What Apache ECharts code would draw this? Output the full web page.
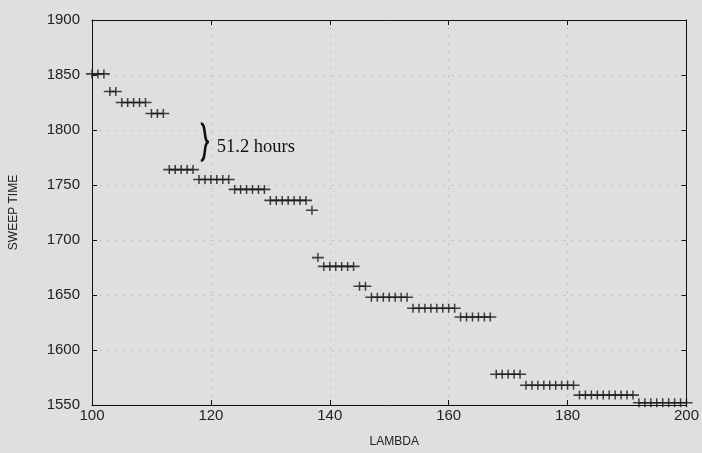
<!DOCTYPE html>
<html>
<head>
<meta charset="utf-8">
<script src="https://cdn.jsdelivr.net/npm/echarts@6/dist/echarts.min.js"></script>
<style>
  html, body { margin: 0; padding: 0; background: #dedfde; }
  #chart { width: 702px; height: 453px; }
</style>
</head>
<body>
<div id="chart"></div>
<script>
var lambdaVals = [
  100, 101, 102,
  103, 104,
  105, 106, 107, 108, 109,
  110, 111, 112,
  113, 114, 115, 116, 117,
  118, 119, 120, 121, 122, 123,
  124, 125, 126, 127, 128, 129,
  130, 131, 132, 133, 134, 135, 136,
  137,
  138,
  139, 140, 141, 142, 143, 144,
  145, 146,
  147, 148, 149, 150, 151, 152, 153,
  154, 155, 156, 157, 158, 159, 160, 161,
  162, 163, 164, 165, 166, 167,
  168, 169, 170, 171, 172,
  173, 174, 175, 176, 177, 178, 179, 180, 181,
  182, 183, 184, 185, 186, 187, 188, 189, 190, 191,
  192, 193, 194, 195, 196, 197, 198, 199, 200
];
var sweepTimes = [
  1851, 1851, 1851,
  1835, 1835,
  1825, 1825, 1825, 1825, 1825,
  1815, 1815, 1815,
  1764, 1764, 1764, 1764, 1764,
  1755, 1755, 1755, 1755, 1755, 1755,
  1746, 1746, 1746, 1746, 1746, 1746,
  1736, 1736, 1736, 1736, 1736, 1736, 1736,
  1727,
  1684,
  1676, 1676, 1676, 1676, 1676, 1676,
  1658, 1658,
  1648, 1648, 1648, 1648, 1648, 1648, 1648,
  1638, 1638, 1638, 1638, 1638, 1638, 1638, 1638,
  1630, 1630, 1630, 1630, 1630, 1630,
  1578, 1578, 1578, 1578, 1578,
  1568, 1568, 1568, 1568, 1568, 1568, 1568, 1568, 1568,
  1559, 1559, 1559, 1559, 1559, 1559, 1559, 1559, 1559, 1559,
  1552, 1552, 1552, 1552, 1552, 1552, 1552, 1552, 1552
];
var xTicks = { min: 100, max: 200, step: 20 };
var yTicks = { min: 1550, max: 1900, step: 50 };
var noteText = '51.2 hours';

var points = [];
for (var i = 0; i < lambdaVals.length; i++) {
  points.push([lambdaVals[i], sweepTimes[i]]);
}

var plusPath = 'path://M0,3.3h12v1.4h-12z M5.25,0h1.5v8h-1.5z';
var sans = 'Liberation Sans, Arial, sans-serif';
var gridLine = { show: true, lineStyle: { color: '#666', type: [1, 7], width: 1, opacity: 0.45 } };
var frame = { show: true, lineStyle: { color: '#111', width: 1 } };
var inTick = { show: true, inside: true, length: 5, lineStyle: { color: '#111' } };
var plain = function (v) { return String(v); };

var chart = echarts.init(document.getElementById('chart'));
chart.setOption({
  backgroundColor: '#dedfde',
  animation: false,
  grid: { left: 92, right: 13, top: 20, bottom: 46 },
  xAxis: [{
    type: 'value', min: xTicks.min, max: xTicks.max, interval: xTicks.step,
    name: 'LAMBDA', nameLocation: 'middle', nameGap: 31,
    nameTextStyle: { fontFamily: sans, fontSize: 12, color: '#222', padding: [0, 0, 0, 10] },
    axisLine: frame, axisTick: inTick, splitLine: gridLine,
    axisLabel: { margin: 3, fontFamily: sans, fontSize: 15, color: '#222', formatter: plain }
  }, {
    type: 'value', position: 'top', min: xTicks.min, max: xTicks.max, interval: xTicks.step,
    axisLine: frame, axisTick: inTick, axisLabel: { show: false }, splitLine: { show: false }
  }],
  yAxis: [{
    type: 'value', min: yTicks.min, max: yTicks.max, interval: yTicks.step,
    name: 'SWEEP TIME', nameLocation: 'middle', nameGap: 72,
    nameTextStyle: { fontFamily: sans, fontSize: 12, color: '#222' },
    axisLine: frame, axisTick: inTick, splitLine: gridLine,
    axisLabel: { margin: 12, fontFamily: sans, fontSize: 15, color: '#222', formatter: plain }
  }, {
    type: 'value', position: 'right', min: yTicks.min, max: yTicks.max, interval: yTicks.step,
    axisLine: frame, axisTick: inTick, axisLabel: { show: false }, splitLine: { show: false }
  }],
  series: [{
    type: 'scatter',
    data: points,
    symbol: plusPath,
    symbolSize: [12, 9],
    itemStyle: { color: '#151515' }
  }]
});

// brace + note, anchored in data coordinates
var braceTop = chart.convertToPixel({ gridIndex: 0 }, [118.3, 1806]);
var braceBot = chart.convertToPixel({ gridIndex: 0 }, [118.3, 1772]);
var notePos = chart.convertToPixel({ gridIndex: 0 }, [121.0, 1784]);
var bx = braceTop[0], by = braceTop[1];
var h = braceBot[1] - braceTop[1];
var m = by + h / 2;
var braceStyle = { fill: null, stroke: '#111', lineWidth: 2.5 };
chart.setOption({
  graphic: [{
    type: 'bezierCurve',
    shape: { x1: bx, y1: by, cpx1: bx + 6, cpy1: by, cpx2: bx + 2, cpy2: m, x2: bx + 8, y2: m },
    style: braceStyle
  }, {
    type: 'bezierCurve',
    shape: { x1: bx + 8, y1: m, cpx1: bx + 2, cpy1: m, cpx2: bx + 6, cpy2: by + h, x2: bx, y2: by + h },
    style: braceStyle
  }, {
    type: 'text',
    x: notePos[0], y: notePos[1],
    style: {
      text: noteText, fill: '#111',
      font: '18.5px "Liberation Serif", "Times New Roman", serif',
      verticalAlign: 'middle'
    }
  }]
});
</script>
</body>
</html>
